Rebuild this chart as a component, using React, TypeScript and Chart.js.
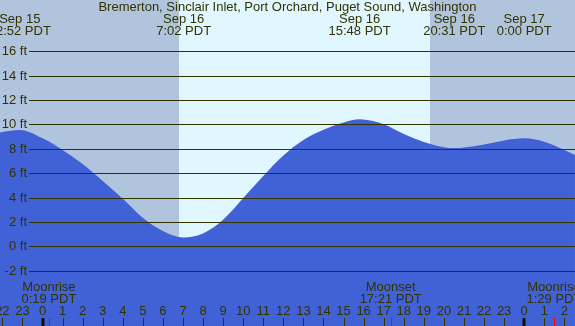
import React, { useEffect, useRef } from "react";
import { Chart, registerables } from "chart.js";

Chart.register(...registerables);

// Hours relative to 0:00 PDT Sep 16
const tideHours = [-2.12, -2, -1.13, 0, 1, 2, 3, 4, 5, 6, 7.03, 8, 9, 10, 11, 12, 13, 14, 15, 15.8, 17, 18, 19, 20, 20.52, 21, 22, 23, 24, 25, 26, 26.53];
const tideFeet = [9.31, 9.36, 9.53, 8.85, 7.9, 6.75, 5.36, 3.9, 2.34, 1.25, 0.72, 1.05, 2.17, 3.95, 5.77, 7.45, 8.72, 9.55, 10.15, 10.41, 10.0, 9.2, 8.55, 8.12, 8.05, 8.1, 8.35, 8.68, 8.85, 8.58, 7.9, 7.48];

const eventDates = ["Sep 15", "Sep 16", "Sep 16", "Sep 16", "Sep 17"];
const eventTimes = ["22:52 PDT", "7:02 PDT", "15:48 PDT", "20:31 PDT", "0:00 PDT"];
const eventHours = [-1.133, 7.033, 15.8, 20.517, 24.0];

const moonNames = ["Moonrise", "Moonset", "Moonrise"];
const moonTimes = ["0:19 PDT", "17:21 PDT", "1:29 PDT"];
const moonHours = [0.317, 17.35, 25.483];

const sunriseHour = 6.8;
const sunsetHour = 19.31;

const feetTicks = [-2, 0, 2, 4, 6, 8, 10, 12, 14, 16];
const hourTicks = [-2, -1, 0, 1, 2, 3, 4, 5, 6, 7, 8, 9, 10, 11, 12, 13, 14, 15, 16, 17, 18, 19, 20, 21, 22, 23, 24, 25, 26];

const title = "Bremerton, Sinclair Inlet, Port Orchard, Puget Sound, Washington";

const X_MIN = -2.1176;
const X_MAX = 26.532;
const Y_MIN = -6.533;
const Y_MAX = 20.189;

const NIGHT = "#b0c4de";
const DAY = "#e0f7ff";
const BLUE = "#4161d6";
const INK = "#333300";
const FONT = "13px 'Liberation Sans', Arial, sans-serif";

const decor = {
  id: "decor",
  beforeDatasetsDraw(chart: any) {
    const { ctx, chartArea, scales } = chart;
    const x = scales.x;
    ctx.save();
    ctx.fillStyle = NIGHT;
    ctx.fillRect(chartArea.left, chartArea.top, chartArea.right - chartArea.left, chartArea.bottom - chartArea.top);
    const x0 = Math.round(x.getPixelForValue(sunriseHour));
    const x1 = Math.round(x.getPixelForValue(sunsetHour));
    ctx.fillStyle = DAY;
    ctx.fillRect(x0, chartArea.top, x1 - x0, chartArea.bottom - chartArea.top);
    ctx.restore();
  },
  afterDatasetsDraw(chart: any) {
    const { ctx, chartArea, scales } = chart;
    const x = scales.x;
    const y = scales.y;
    ctx.save();
    ctx.font = FONT;
    ctx.fillStyle = INK;
    ctx.strokeStyle = INK;
    ctx.lineWidth = 1;
    ctx.textBaseline = "middle";
    feetTicks.forEach((v) => {
      const py = Math.round(y.getPixelForValue(v)) + 0.5;
      ctx.beginPath();
      ctx.moveTo(29, py);
      ctx.lineTo(chartArea.right, py);
      ctx.stroke();
      ctx.textAlign = "right";
      ctx.fillText(v + " ft", 27, py);
    });
    ctx.textAlign = "center";
    ctx.fillText(title, (chartArea.left + chartArea.right) / 2, 7);
    eventHours.forEach((h, i) => {
      const px = x.getPixelForValue(h);
      ctx.fillText(eventDates[i], px, 19);
      ctx.fillText(eventTimes[i], px, 31);
    });
    moonHours.forEach((h, i) => {
      const px = x.getPixelForValue(h);
      ctx.fillText(moonNames[i], px, 287);
      ctx.fillText(moonTimes[i], px, 299);
    });
    hourTicks.forEach((h) => {
      const px = x.getPixelForValue(h);
      const label = String(((h % 24) + 24) % 24);
      ctx.fillStyle = INK;
      ctx.fillText(label, px, 311);
      if (label === "0") {
        ctx.fillStyle = "#111100";
        ctx.fillRect(Math.round(px) - 1.5, 318, 3, 8);
      } else {
        ctx.fillRect(Math.round(px), 318, 1, 8);
      }
    });
    ctx.fillStyle = "#ff0000";
    moonHours.forEach((h) => {
      const px = x.getPixelForValue(h);
      ctx.fillRect(Math.round(px), 318, 1, 8);
    });
    ctx.restore();
  },
};

export default function App() {
  const ref = useRef<HTMLCanvasElement | null>(null);
  useEffect(() => {
    document.body.style.margin = "0";
    const canvas = ref.current!;
    const chart = new Chart(canvas, {
      type: "line",
      data: {
        datasets: [
          {
            data: tideHours.map((h, i) => ({ x: h, y: tideFeet[i] })),
            fill: "start",
            backgroundColor: BLUE,
            borderColor: BLUE,
            borderWidth: 0,
            pointRadius: 0,
            cubicInterpolationMode: "monotone",
          },
        ],
      },
      options: {
        animation: false,
        responsive: false,
        maintainAspectRatio: false,
        devicePixelRatio: 1,
        layout: { padding: 0 },
        plugins: { legend: { display: false }, tooltip: { enabled: false }, title: { display: false } },
        scales: {
          x: { type: "linear", min: X_MIN, max: X_MAX, display: false },
          y: { type: "linear", min: Y_MIN, max: Y_MAX, display: false },
        },
      },
      plugins: [decor],
    });
    return () => chart.destroy();
  }, []);
  return (
    <div style={{ width: 575, height: 326 }}>
      <canvas ref={ref} width={575} height={326} style={{ display: "block", width: 575, height: 326 }} />
    </div>
  );
}
